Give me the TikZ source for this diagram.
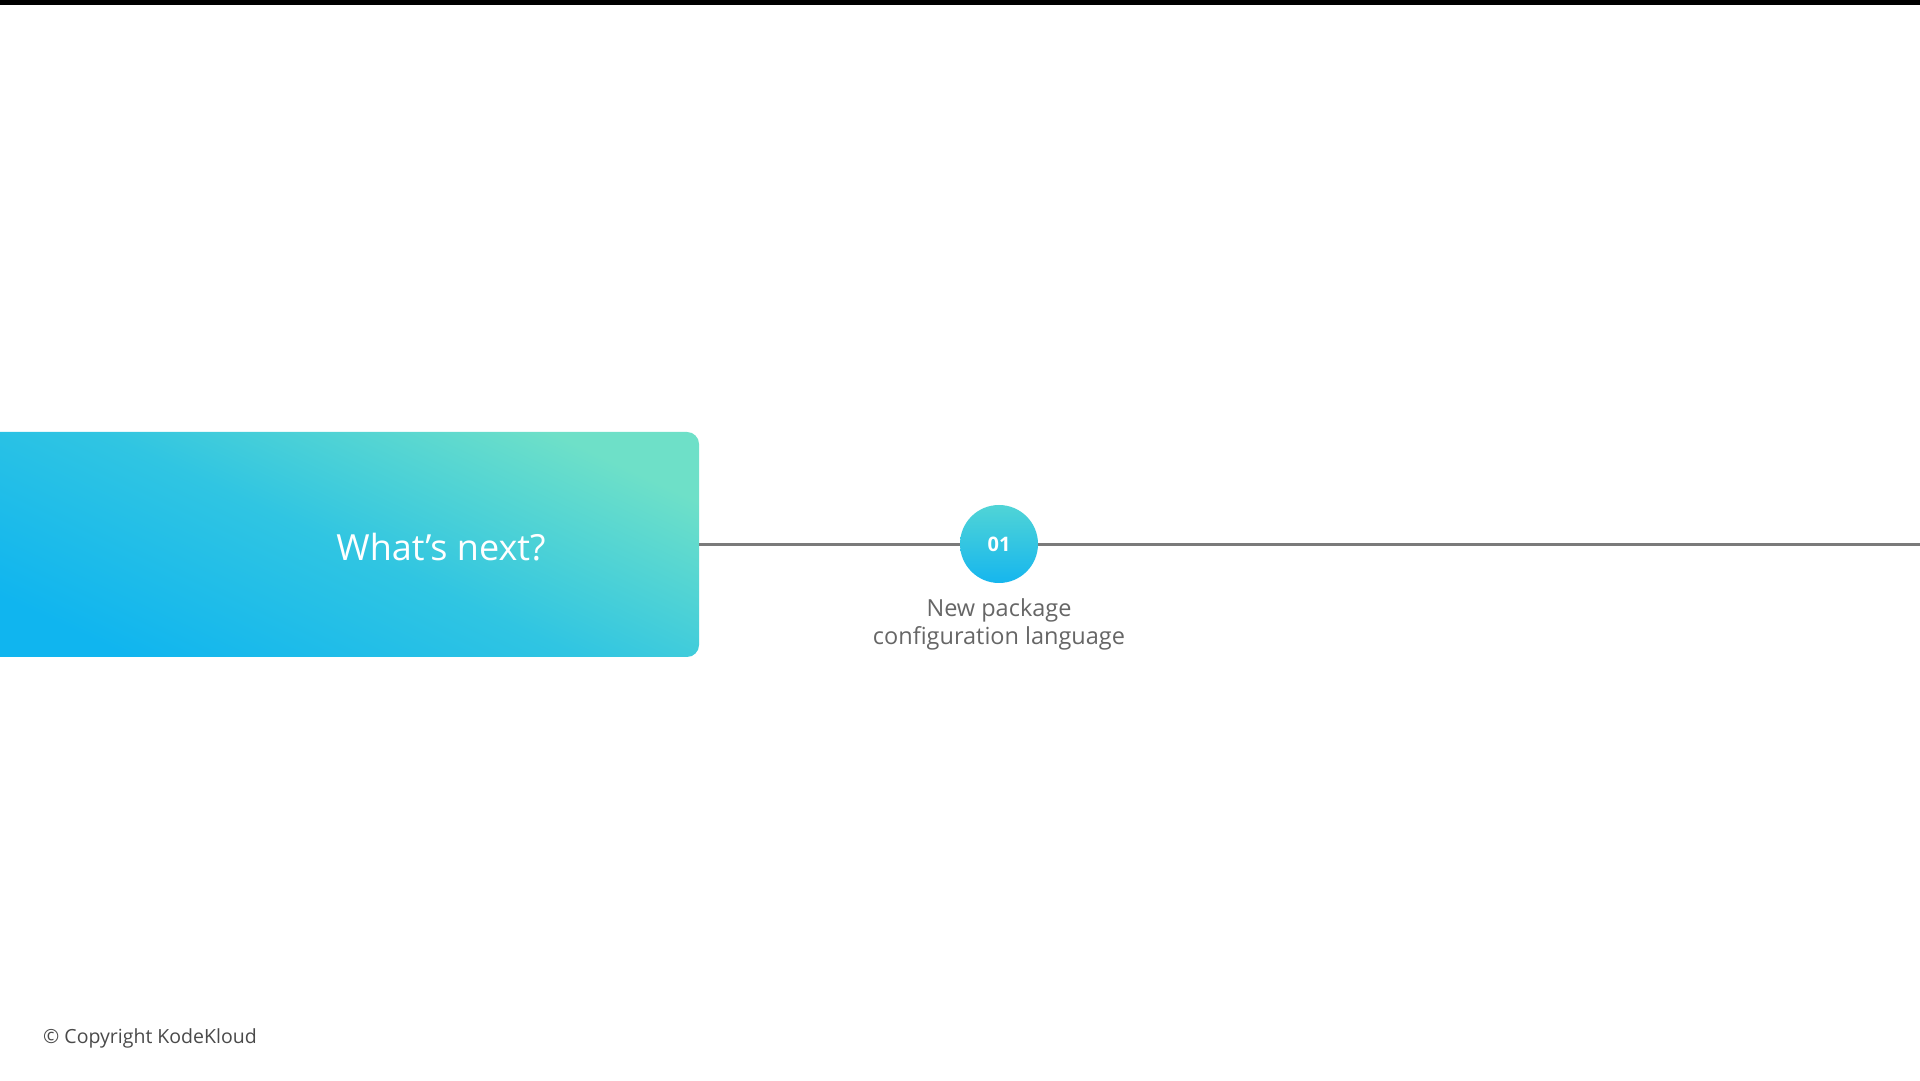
\documentclass[tikz,border=0pt]{standalone}
\usepackage{fontspec}
\setmainfont{Open Sans}
\usepackage{tikz}
\usetikzlibrary{positioning}
\definecolor{tealTop}{HTML}{6EE0C8}
\definecolor{skyMid}{HTML}{30C5E2}
\definecolor{skyBlue}{HTML}{10B5EF}
\definecolor{circleTop}{HTML}{50D4D6}
\definecolor{circleBottom}{HTML}{16B6EE}
\definecolor{lineGray}{HTML}{7A7A7A}
\definecolor{labelGray}{HTML}{666666}
\definecolor{footGray}{HTML}{4A4A4A}

\begin{document}
\begin{tikzpicture}[x=1pt, y=1pt,
    titlebox/.style={minimum width=719pt, minimum height=225pt, inner sep=0pt, rounded corners=12pt,
      top color=tealTop, bottom color=skyBlue, middle color=skyMid, shading angle=-25},
    stepcircle/.style={circle, minimum size=78pt, inner sep=0pt, top color=circleTop, bottom color=circleBottom,
      text=white, font=\fontsize{20}{24}\selectfont\bfseries}]
    % Canvas
    \useasboundingbox (0,0) rectangle (1920,1080);
    \fill[white] (0,0) rectangle (1920,1080);
    \fill[black] (0,1075) rectangle (1920,1080);

    % Title box
    \node[titlebox] (box) at (339.5,535.5) {};
    \node[text=white, font=\fontsize{36}{44}\selectfont] (whatsNext) at (441,533) {What’s next?};

    % Timeline
    \coordinate (lineEnd) at (1920,535.5);
    \draw[lineGray, line width=3pt] (box.east) -- (lineEnd);

    % Step
    \node[stepcircle] (step01) at (999,536) {01};
    \node[below=12pt of step01, align=center, text=labelGray, font=\fontsize{23.5}{28}\selectfont] (step01label) {New package\\configuration language};

    % Footer
    \node[anchor=west, inner sep=0pt, text=footGray, font=\fontsize{19.5}{22}\selectfont] (copyright) at (43,42) {© Copyright KodeKloud};
\end{tikzpicture}
\end{document}
